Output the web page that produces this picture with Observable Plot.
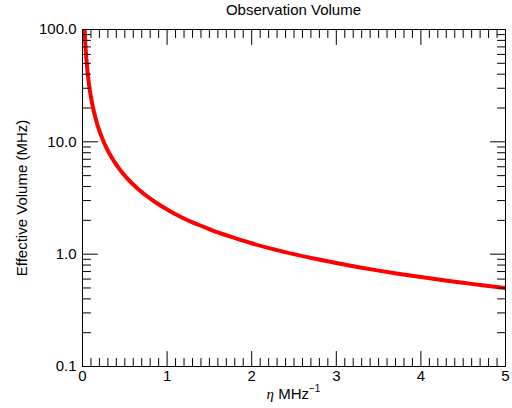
<!DOCTYPE html>
<html><head><meta charset="utf-8">
<script src="https://cdn.jsdelivr.net/npm/d3@7"></script>
<script src="https://cdn.jsdelivr.net/npm/@observablehq/plot@0.6"></script>
<style>
body{margin:0;background:#fff}
svg{font-family:"Liberation Sans",Arial,Helvetica,sans-serif}
</style>
</head><body><div id="chart"></div>
<script>
// ---- data ----
const title = "Observation Volume";
const yTitle = "Effective Volume (MHz)";
const etaValues    = [0.025, 0.03, 0.035, 0.04, 0.05, 0.06, 0.07, 0.08, 0.09, 0.1, 0.125, 0.15, 0.175, 0.2, 0.25, 0.3, 0.35, 0.4, 0.45, 0.5, 0.55, 0.6, 0.65, 0.7, 0.75, 0.8, 0.85, 0.9, 0.95, 1.0, 1.1, 1.2, 1.3, 1.4, 1.5, 1.6, 1.75, 1.9, 2.0, 2.25, 2.5, 2.75, 3.0, 3.25, 3.5, 3.75, 4.0, 4.25, 4.5, 4.75, 5.0];
const volumeValues = [100, 83.3, 71.4, 62.5, 50.0, 41.7, 35.7, 31.3, 27.8, 25.0, 20.0, 16.7, 14.3, 12.5, 10.0, 8.33, 7.14, 6.25, 5.56, 5.00, 4.55, 4.17, 3.85, 3.57, 3.33, 3.13, 2.94, 2.78, 2.63, 2.50, 2.27, 2.08, 1.92, 1.79, 1.67, 1.56, 1.43, 1.32, 1.25, 1.11, 1.00, 0.909, 0.833, 0.769, 0.714, 0.667, 0.625, 0.588, 0.556, 0.526, 0.500];
const xMajorTicks = [0, 1, 2, 3, 4, 5];
const xTickLabels = ["0", "1", "2", "3", "4", "5"];
const yMajorTicks = [0.1, 1, 10, 100];
const yTickLabels = ["0.1", "1.0", "10.0", "100.0"];

const data = etaValues.map((x, i) => ({x, y: volumeValues[i]}));
const xMinor = d3.range(0, 51).map(i => i / 10).filter(v => !xMajorTicks.some(m => Math.abs(m - v) < 1e-9));
const yMinor = [];
for (const dec of [0.1, 1, 10]) for (let k = 2; k <= 9; k++) yMinor.push(+(dec * k).toPrecision(3));

const tickShape = {draw(ctx, l) { ctx.moveTo(0, 0); ctx.lineTo(0, -l); }};
const tk = (vals, ch, anchor, len, rot) => Plot.vector(vals, {
  [ch]: d => d, frameAnchor: anchor, length: len, rotate: rot, anchor: "start",
  shape: tickShape, stroke: "black", strokeWidth: 1
});

const W = 512, H = 408;
const chart = Plot.plot({
  width: W, height: H,
  marginLeft: 82, marginRight: 7, marginTop: 29, marginBottom: 42,
  style: {fontSize: "15px", fontFamily: "'Liberation Sans', Arial, sans-serif", background: "white"},
  x: {domain: [0, 5]},
  y: {type: "log", domain: [0.1, 100]},
  marks: [
    Plot.line(data, {x: "x", y: "y", stroke: "red", strokeWidth: 4, curve: "monotone-x", clip: true}),
    tk(xMinor, "x", "bottom", 8, 0),
    tk(xMinor, "x", "top", 8, 180),
    tk(xMajorTicks, "x", "bottom", 15, 0),
    tk(xMajorTicks, "x", "top", 15, 180),
    tk(yMinor, "y", "left", 8, 90),
    tk(yMinor, "y", "right", 8, -90),
    tk(yMajorTicks, "y", "left", 15, 90),
    tk(yMajorTicks, "y", "right", 15, -90),
    Plot.axisX(xMajorTicks, {anchor: "bottom", tickSize: 0, tickPadding: 4, label: null, fontSize: 15,
      tickFormat: d => xTickLabels[xMajorTicks.indexOf(d)]}),
    Plot.axisY(yMajorTicks, {anchor: "left", tickSize: 0, tickPadding: 6, label: null, fontSize: 15,
      tickFormat: d => yTickLabels[yMajorTicks.indexOf(d)]}),
    Plot.frame({stroke: "black", strokeWidth: 1})
  ]
});

const svg = d3.select(chart);
svg.append("text").attr("x", 293.5).attr("y", 15).attr("text-anchor", "middle")
  .attr("font-size", 15).attr("fill", "black").text(title);
const xl = svg.append("text").attr("x", 293.5).attr("y", 399).attr("text-anchor", "middle")
  .attr("font-size", 15).attr("fill", "black");
xl.append("tspan").attr("font-style", "italic").attr("font-family", "'Liberation Serif', 'DejaVu Serif', serif").text("η");
xl.append("tspan").text(" MHz");
xl.append("tspan").attr("font-size", 10).attr("dy", -7).text("−1");
svg.append("text").attr("transform", "translate(27,198) rotate(-90)").attr("text-anchor", "middle")
  .attr("font-size", 15).attr("fill", "black").text(yTitle);

document.getElementById("chart").append(chart);
</script>
</body></html>
